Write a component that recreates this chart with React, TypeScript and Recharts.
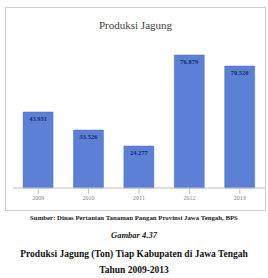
import React from "react";
import { BarChart, Bar, XAxis, YAxis, LabelList } from "recharts";

const years = ["2009", "2010", "2011", "2012", "2013"];
const production = [43931, 33526, 24277, 76879, 70520];
const chartTitle = "Produksi Jagung";
const captionLines = [
  "Sumber: Dinas Pertanian Tanaman Pangan Provinsi Jawa Tengah, BPS",
  "Gambar 4.37",
  "Produksi Jagung (Ton) Tiap Kabupaten di Jawa Tengah",
  "Tahun 2009-2013",
];

const data = years.map((y, i) => ({ year: y, value: production[i] }));

const fmt = (v: number) => v.toLocaleString("de-DE");

export default function App() {
  return (
    <div
      style={{
        position: "absolute",
        left: 0,
        top: 0,
        width: 268,
        height: 278,
        background: "#fff",
        overflow: "hidden",
        fontFamily: "'Liberation Serif', serif",
      }}
    >
      <div
        style={{
          position: "absolute",
          left: 5,
          top: 7,
          width: 261,
          height: 204,
          border: "1px solid #cfcfcf",
          boxSizing: "border-box",
        }}
      >
        <div
          style={{
            position: "absolute",
            left: 0,
            width: "100%",
            top: 11,
            textAlign: "center",
            fontSize: 11,
            color: "#404040",
            fontFamily: "'Liberation Serif', serif",
          }}
        >
          {chartTitle}
        </div>
        <div style={{ position: "absolute", left: 0, top: 0 }}>
          <BarChart
            width={259}
            height={202}
            data={data}
            margin={{ top: 7, right: 0, bottom: 0, left: 7 }}
            barCategoryGap="20%"
          >
            <XAxis
              dataKey="year"
              tick={{ fontSize: 6, fill: "#7f7f7f" }}
              axisLine={{ stroke: "#bfbfbf" }}
              tickLine={{ stroke: "#bfbfbf" }}
              height={22}
              interval={0}
            />
            <YAxis
              domain={[0, 100000]}
              width={0}
              tick={false}
              axisLine={{ stroke: "#e0e0e0" }}
              tickLine={false}
            />
            <Bar
              dataKey="value"
              fill="#5b80d5"
              stroke="#4d70c4"
              strokeWidth={0.5}
              isAnimationActive={false}
            >
              <LabelList
                dataKey="value"
                position="insideTop"
                offset={4}
                formatter={(v: number) => fmt(v)}
                style={{ fontSize: 6.5, fill: "#1c2d66", fontWeight: 700 }}
              />
            </Bar>
          </BarChart>
        </div>
      </div>
      <div
        style={{
          position: "absolute",
          left: 0,
          width: 268,
          top: 214,
          textAlign: "center",
          fontSize: 6.8,
          fontWeight: 700,
          color: "#222",
          whiteSpace: "nowrap",
        }}
      >
        {captionLines[0]}
      </div>
      <div
        style={{
          position: "absolute",
          left: 0,
          width: 268,
          top: 230,
          textAlign: "center",
          fontSize: 8.5,
          fontWeight: 700,
          fontStyle: "italic",
          color: "#222",
        }}
      >
        {captionLines[1]}
      </div>
      <div
        style={{
          position: "absolute",
          left: 0,
          width: 268,
          top: 249,
          textAlign: "center",
          fontSize: 9.5,
          fontWeight: 700,
          color: "#111",
          whiteSpace: "nowrap",
        }}
      >
        {captionLines[2]}
      </div>
      <div
        style={{
          position: "absolute",
          left: 0,
          width: 268,
          top: 265,
          textAlign: "center",
          fontSize: 9.5,
          fontWeight: 700,
          color: "#111",
        }}
      >
        {captionLines[3]}
      </div>
    </div>
  );
}
